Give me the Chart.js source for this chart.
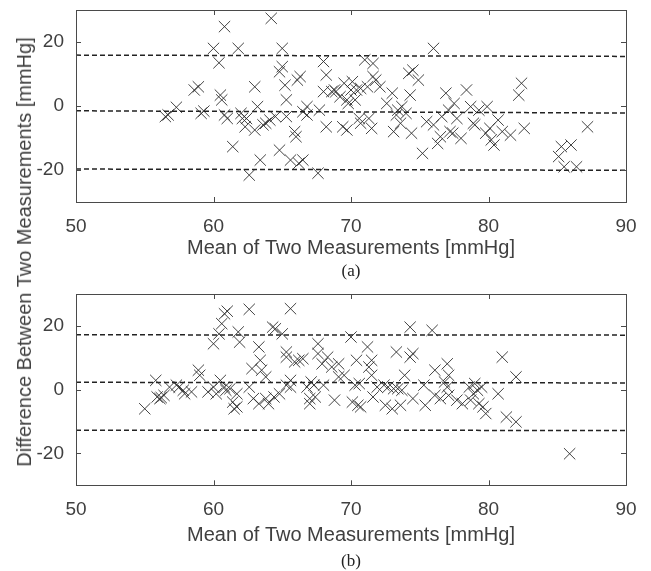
<!DOCTYPE html>
<html>
<head>
<meta charset="utf-8">
<script src="https://cdn.jsdelivr.net/npm/chart.js@4.4.1/dist/chart.umd.min.js"></script>
<style>
    body { margin: 0; background: #fff; }
    #page { position: relative; width: 651px; height: 571px; overflow: hidden; background: #fff; }
    .box { position: absolute; left: 0; width: 651px; }
    .cap { position: absolute; font: 17px "Liberation Serif", "Times New Roman", serif; color: #222;
           transform: translate(-50%, -50%); white-space: nowrap; }
    #ytitle { position: absolute; left: 24px; top: 252px; font: 20px "Liberation Sans", Arial, sans-serif;
              color: #404040; line-height: 1; white-space: nowrap;
              transform: translate(-50%, -50%) rotate(-90deg); }
</style>
</head>
<body>
<div id="page">
    <div class="box" style="top:0;height:285px"><canvas id="chartA" width="651" height="285"></canvas></div>
    <div class="box" style="top:285px;height:286px"><canvas id="chartB" width="651" height="286"></canvas></div>
    <div id="ytitle">Difference Between Two Measurements [mmHg]</div>
    <div class="cap" style="left:351px;top:271px">(a)</div>
    <div class="cap" style="left:351px;top:561px">(b)</div>
</div>
<script>
// x ticks / y ticks
const xTicks = [50, 60, 70, 80, 90];
const yTicks = [-20, 0, 20];
const xTitle = 'Mean of Two Measurements [mmHg]';

// (a) mean vs difference
const meanA = [56.5, 56.7, 57.3, 58.6, 58.9, 59.1, 59.3, 60.0, 60.4, 60.8,
    60.5, 60.6, 60.8, 61.0, 61.4, 61.8, 62.0, 62.1, 62.3, 62.4,
    62.6, 63.0, 63.0, 63.2, 63.4, 63.6, 63.8, 64.2, 64.1, 64.5,
    64.8, 65.0, 65.0, 64.8, 65.2, 65.3, 65.3, 65.6, 65.9, 66.0,
    66.1, 66.3, 66.2, 66.5, 66.5, 66.8, 66.8, 67.6, 67.7, 68.0,
    68.2, 68.0, 68.2, 68.6, 68.8, 68.9, 69.2, 69.4, 69.5, 69.7,
    69.7, 69.8, 70.0, 70.1, 70.3, 70.4, 70.6, 70.7, 70.7, 71.0,
    71.2, 71.3, 71.5, 71.6, 71.6, 71.8, 72.1, 72.6, 73.0, 73.1,
    73.3, 73.4, 73.6, 73.7, 74.0, 74.2, 74.3, 74.4, 74.5, 74.9,
    75.2, 75.5, 76.0, 76.0, 76.3, 76.5, 76.6, 76.9, 77.1, 77.2,
    77.4, 77.5, 77.7, 78.0, 78.4, 78.7, 78.9, 79.0, 79.3, 79.8,
    79.9, 80.1, 80.2, 80.4, 80.7, 81.0, 81.6, 82.2, 82.4, 82.6,
    85.1, 85.3, 85.5, 86.0, 86.4, 87.2];
const diffA = [-3.3, -2.8, -0.4, 5.0, 6.0, -2.3, -1.6, 18.0, 13.5, 24.8,
    3.4, 1.9, -2.8, -3.9, -12.7, 18.0, -2.3, -3.9, -6.5, -3.9,
    -21.6, 6.0, -7.5, -0.2, -16.9, -5.9, -5.4, 27.4, -4.4, -3.3,
    10.7, 18.0, 12.3, -13.8, 6.5, 1.9, -3.3, -16.9, -8.0, -9.6,
    8.1, 9.2, -17.9, -16.9, -1.8, -0.2, -2.8, -21.0, -1.3, 13.9,
    9.7, 4.5, -6.5, 4.5, 5.0, 4.5, 2.9, -6.5, 7.1, 1.9,
    -7.5, 0.8, 5.0, 7.6, 1.9, 5.0, -3.9, -5.4, 5.5, 14.4,
    6.0, -3.9, -7.0, 13.3, 9.2, 8.1, 6.0, 0.8, 4.0, -8.0,
    -2.8, -1.3, -5.4, -0.2, -2.3, 10.2, 3.4, -8.5, 11.2, 8.1,
    -14.8, -4.9, 18.0, -5.9, -11.7, -9.6, -3.3, 4.0, -1.3, -8.0,
    -8.5, 0.8, -3.9, -10.1, 5.0, -0.2, -5.4, -5.9, -1.3, -8.5,
    -0.2, -7.0, -10.6, -12.2, -4.4, -8.0, -9.1, 3.4, 7.1, -7.0,
    -15.8, -12.7, -19.0, -12.2, -19.0, -6.5];

// (b) mean vs difference
const meanB = [55.0, 55.8, 55.9, 56.1, 56.2, 56.4, 56.8, 57.3, 57.5, 57.8,
    57.9, 58.4, 58.9, 59.0, 59.6, 60.0, 60.0, 60.2, 60.4, 60.6,
    60.8, 61.0, 60.5, 60.8, 60.9, 61.2, 61.4, 61.5, 61.7, 61.8,
    61.9, 61.7, 62.6, 62.8, 62.6, 62.9, 63.3, 63.4, 63.5, 63.8,
    63.3, 63.8, 64.0, 64.3, 64.5, 65.0, 64.4, 64.8, 65.3, 65.3,
    65.3, 65.6, 65.6, 65.6, 65.9, 66.2, 66.5, 66.8, 67.0, 67.0,
    67.1, 67.3, 67.4, 67.6, 67.6, 67.9, 68.0, 68.3, 68.6, 68.8,
    69.1, 69.1, 69.5, 70.0, 70.1, 70.3, 70.4, 70.5, 70.6, 70.7,
    71.2, 71.3, 71.5, 71.5, 71.6, 71.9, 72.4, 72.5, 72.7, 73.0,
    73.1, 73.3, 73.4, 73.6, 73.7, 73.9, 74.3, 74.3, 74.5, 74.5,
    75.3, 75.4, 75.9, 76.1, 76.1, 76.5, 76.8, 77.0, 77.0, 77.1,
    77.1, 77.7, 78.1, 78.6, 78.7, 78.9, 79.0, 79.2, 79.3, 79.5,
    79.6, 79.8, 80.7, 81.0, 81.3, 82.0, 82.0, 85.9];
const diffB = [-6.0, 2.9, -2.3, -2.8, -2.5, -1.8, 0.8, 1.4, 0.8, -0.2,
    -1.3, -0.7, 6.1, 4.5, -0.7, 0.8, 14.4, -1.3, 17.5, 20.7,
    23.8, 24.6, 2.9, 0.8, -0.2, 0.3, -3.9, -6.0, -5.4, 18.1,
    14.9, -1.3, 25.2, 6.6, 0.8, -2.8, 13.4, 9.2, 6.1, 4.0,
    -4.4, -2.8, -4.4, 19.6, 19.1, 17.5, -2.3, -1.3, 11.8, 10.2,
    1.4, 25.4, 2.9, 0.8, 8.7, 9.2, 9.7, 0.8, -2.8, -4.4,
    2.4, 1.4, -2.3, 14.4, 11.3, 8.1, 1.4, 10.2, 7.1, -3.3,
    8.1, 4.0, 4.5, 16.5, -3.9, 1.4, 9.2, -4.9, 1.9, -5.4,
    13.4, 7.1, 9.2, 4.5, -2.3, 0.8, 1.4, -4.9, 0.8, -6.0,
    0.3, 11.8, 0.3, -4.9, -0.2, 4.5, 19.6, 10.2, 11.3, -2.8,
    1.4, -4.9, 18.6, 6.1, -1.8, -2.8, 2.4, 8.1, 0.8, 4.5,
    -1.8, -3.3, -4.4, 0.8, -3.3, -1.3, 1.9, -0.2, -4.4, 0.8,
    -5.4, -7.5, -1.3, 10.2, -8.6, -10.1, 4.0, -20.1];

// limit lines, value at x = 50 and x = 90
const lineX = [50, 90];
const upperA = [15.9, 15.5];
const biasA = [-1.5, -2.2];
const lowerA = [-19.7, -20.1];
const upperB = [17.2, 17.1];
const biasB = [2.3, 2.1];
const lowerB = [-12.7, -12.8];

const FONT = '"Liberation Sans", Arial, sans-serif';

function toPoints(xs, ys) {
    return xs.map((x, i) => ({ x: x, y: ys[i] }));
}

function limitLine(vals) {
    return {
        type: 'line',
        data: toPoints(lineX, vals),
        borderColor: '#222',
        borderWidth: 1.5,
        borderDash: [5, 3],
        pointRadius: 0,
        fill: false,
        order: 0
    };
}

// box + inward tick marks like matlab
const boxPlugin = {
    id: 'boxTicks',
    afterDraw(chart) {
        const { ctx, chartArea: a, scales } = chart;
        ctx.save();
        ctx.lineWidth = 1;
        ctx.strokeStyle = '#4a4a4a';
        ctx.strokeRect(Math.round(a.left) + 0.5, Math.round(a.top) + 0.5,
            Math.round(a.right - a.left), Math.round(a.bottom - a.top));
        ctx.beginPath();
        xTicks.forEach(v => {
            const px = Math.round(scales.x.getPixelForValue(v)) + 0.5;
            ctx.moveTo(px, a.bottom); ctx.lineTo(px, a.bottom - 5);
            ctx.moveTo(px, a.top); ctx.lineTo(px, a.top + 5);
        });
        yTicks.forEach(v => {
            const py = Math.round(scales.y.getPixelForValue(v)) + 0.5;
            ctx.moveTo(a.left, py); ctx.lineTo(a.left + 5, py);
            ctx.moveTo(a.right, py); ctx.lineTo(a.right - 5, py);
        });
        ctx.stroke();
        ctx.restore();
    }
};

function makeChart(id, means, diffs, upper, bias, lower, padTop, axisH, titlePad) {
    return new Chart(document.getElementById(id), {
        type: 'scatter',
        data: {
            datasets: [
                {
                    data: toPoints(means, diffs),
                    pointStyle: 'crossRot',
                    pointRadius: 8,
                    pointHoverRadius: 8,
                    borderColor: 'rgba(45,45,45,0.9)',
                    backgroundColor: 'rgba(0,0,0,0)',
                    borderWidth: 1,
                    order: 1
                },
                limitLine(upper),
                limitLine(bias),
                limitLine(lower)
            ]
        },
        options: {
            responsive: false,
            animation: false,
            layout: { padding: { top: padTop, right: 25, left: 0, bottom: 0 } },
            plugins: { legend: { display: false }, tooltip: { enabled: false } },
            scales: {
                x: {
                    type: 'linear',
                    min: 50, max: 90,
                    afterBuildTicks: s => { s.ticks = xTicks.map(v => ({ value: v })); },
                    afterFit: s => { s.height = axisH; s.paddingLeft = 0; s.paddingRight = 0; },
                    grid: { display: false },
                    border: { display: false },
                    ticks: { color: '#404040', font: { family: FONT, size: 19 }, padding: 5, maxRotation: 0 },
                    title: {
                        display: true, text: xTitle, color: '#404040',
                        font: { family: FONT, size: 20 }, padding: { top: 0, bottom: titlePad }
                    }
                },
                y: {
                    type: 'linear',
                    min: -30, max: 30,
                    afterBuildTicks: s => { s.ticks = yTicks.map(v => ({ value: v })); },
                    // fixed width, and no extra room for the tick labels at the ends
                    afterFit: s => { s.width = 76; s.paddingTop = 0; s.paddingBottom = 0; },
                    grid: { display: false },
                    border: { display: false },
                    ticks: { color: '#404040', font: { family: FONT, size: 19 }, padding: 4 }
                }
            }
        },
        plugins: [boxPlugin]
    });
}

window.onload = () => {
    makeChart('chartA', meanA, diffA, upperA, biasA, lowerA, 10, 83, 25);
    makeChart('chartB', meanB, diffB, upperB, biasB, lowerB, 8.3, 85.7, 23.5);
};
</script>
</body>
</html>
